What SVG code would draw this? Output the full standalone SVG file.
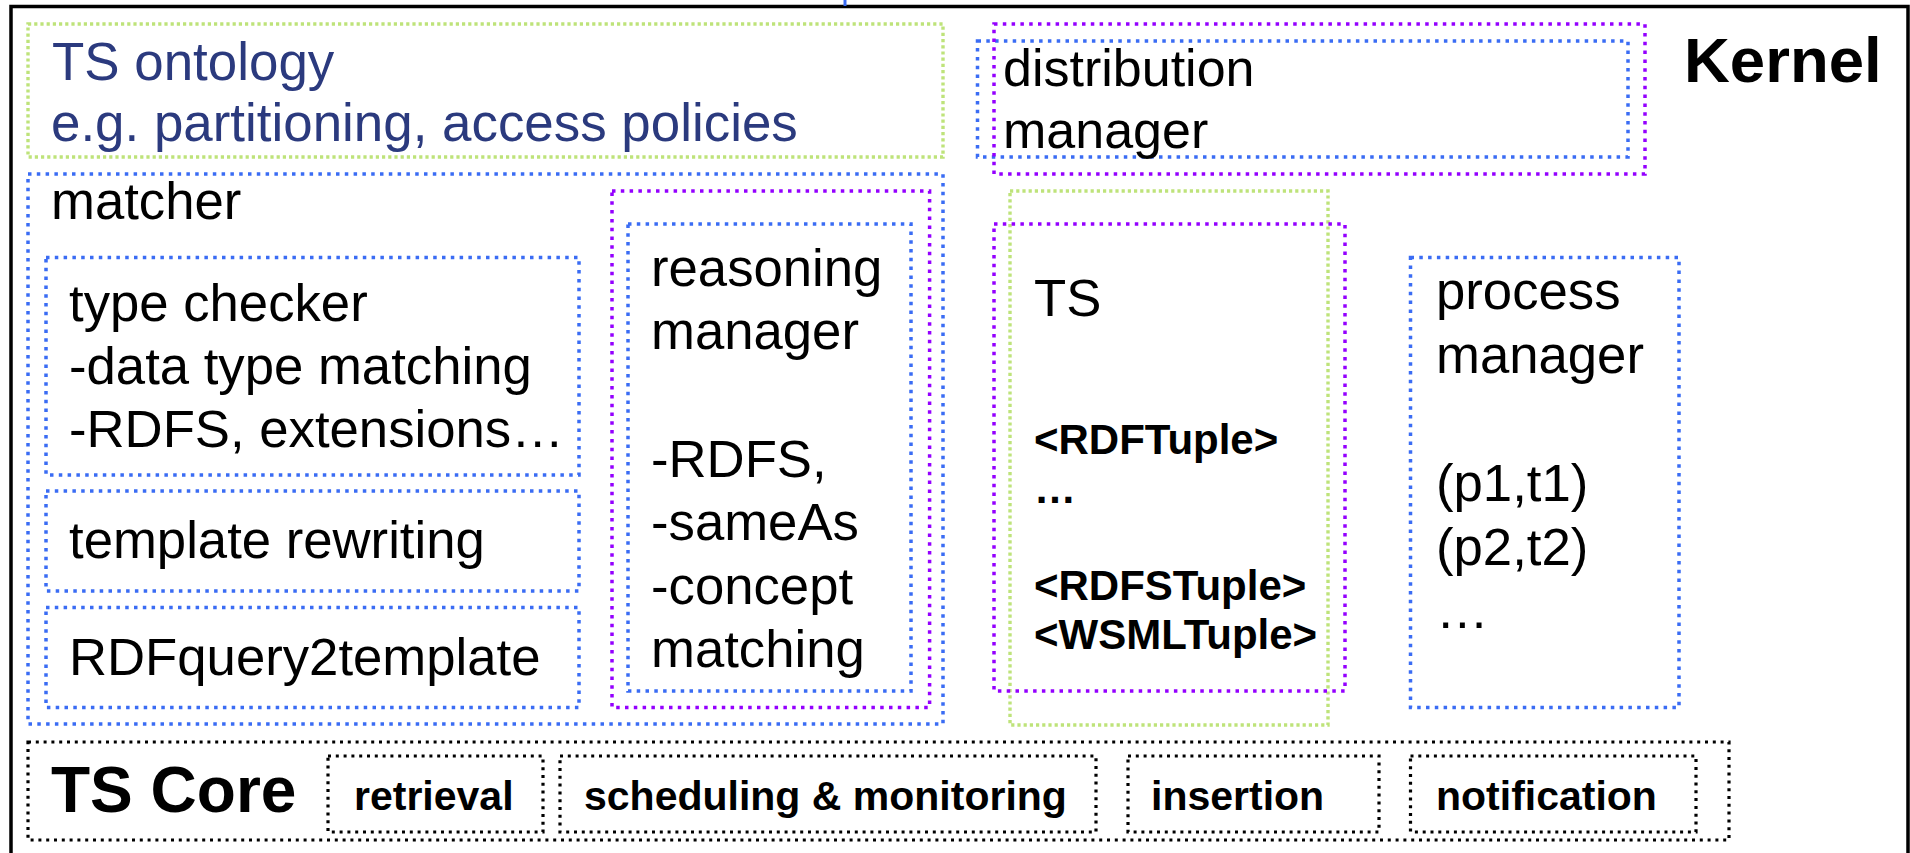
<svg xmlns="http://www.w3.org/2000/svg" width="1910" height="853" viewBox="0 0 1910 853">
<style>
.g{fill:none;stroke:#BEE37A;stroke-width:3.4;stroke-dasharray:3.2 3}
.b{fill:none;stroke:#3A6CF4;stroke-width:3.5;stroke-dasharray:3.5 5.3}
.p{fill:none;stroke:#9400FF;stroke-width:3.5;stroke-dasharray:3.5 5.3}
.k{fill:none;stroke:#000;stroke-width:3.2;stroke-dasharray:3 4.8}
text{font-family:"Liberation Sans",Arial,sans-serif;fill:#000}
.t{font-size:52.7px}
.tb{font-size:42px;font-weight:bold}
.cb{font-size:41px;font-weight:bold}
.nav{fill:#2B3A7E;font-size:52.9px}
</style>
<rect x="0" y="0" width="1910" height="853" fill="#fff"/>
<rect x="11" y="6.5" width="1897" height="860" fill="none" stroke="#000" stroke-width="3.5"/>
<g id="connectors">
<line x1="845" y1="0" x2="845" y2="6" stroke="#3A6CF4" stroke-width="3"/>
</g>
<g id="ontology">
<rect class="g" x="28" y="24" width="915" height="133"/>
<text class="nav" x="52" y="80">TS ontology</text>
<text class="nav" x="51" y="141">e.g. partitioning, access policies</text>
</g>
<g id="distribution">
<rect class="b" x="977.5" y="41" width="650.5" height="116"/>
<rect class="p" x="994" y="24" width="651" height="150"/>
<text x="1003" y="86" font-size="52">distribution</text>
<text x="1003" y="148" font-size="52">manager</text>
</g>
<g id="kernel">
<text x="1684" y="82" font-size="63.5" font-weight="bold">Kernel</text>
</g>
<g id="matcher">
<rect class="b" x="28" y="174" width="915" height="550"/>
<text class="t" x="51" y="219">matcher</text>
</g>
<g id="typechecker">
<rect class="b" x="46" y="257.5" width="533" height="217.5"/>
<text class="t" x="69" y="321">type checker</text>
<text class="t" x="69" y="384">-data type matching</text>
<text class="t" x="69" y="447">-RDFS, extensions…</text>
</g>
<g id="templaterewriting">
<rect class="b" x="46" y="491" width="533" height="100"/>
<text class="t" x="69" y="558">template rewriting</text>
</g>
<g id="rdfquery">
<rect class="b" x="46" y="607.5" width="533" height="100"/>
<text class="t" x="69" y="675">RDFquery2template</text>
</g>
<g id="reasoning">
<rect class="p" x="612" y="191" width="317.6" height="516.5"/>
<rect class="b" x="628" y="224" width="283" height="467"/>
<text class="t" x="651" y="286">reasoning</text>
<text class="t" x="651" y="349">manager</text>
<text class="t" x="651" y="477">-RDFS,</text>
<text class="t" x="651" y="540">-sameAs</text>
<text class="t" x="651" y="604">-concept</text>
<text class="t" x="651" y="667">matching</text>
</g>
<g id="ts">
<rect class="g" x="1010" y="191" width="318" height="534"/>
<rect class="p" x="994" y="224" width="351" height="467"/>
<text class="t" x="1034" y="316">TS</text>
<text class="tb" x="1034" y="454">&lt;RDFTuple&gt;</text>
<text class="tb" x="1034" y="503">…</text>
<text class="tb" x="1034" y="600">&lt;RDFSTuple&gt;</text>
<text class="tb" x="1034" y="649">&lt;WSMLTuple&gt;</text>
</g>
<g id="process">
<rect class="b" x="1410.5" y="257.5" width="268.5" height="450"/>
<text class="t" x="1436" y="309">process</text>
<text class="t" x="1436" y="373">manager</text>
<text class="t" x="1436" y="501">(p1,t1)</text>
<text class="t" x="1436" y="565">(p2,t2)</text>
<text class="t" x="1436" y="628">…</text>
</g>
<g id="tscore">
<rect class="k" x="28" y="742" width="1701" height="98"/>
<text x="51" y="812" font-size="64" font-weight="bold">TS Core</text>
</g>
<g id="retrieval">
<rect class="k" x="328" y="756" width="215" height="76"/>
<text class="cb" x="354" y="810">retrieval</text>
</g>
<g id="scheduling">
<rect class="k" x="560" y="756" width="536" height="76"/>
<text class="cb" x="584" y="810">scheduling &amp; monitoring</text>
</g>
<g id="insertion">
<rect class="k" x="1128" y="756" width="251" height="76"/>
<text class="cb" x="1151" y="810">insertion</text>
</g>
<g id="notification">
<rect class="k" x="1410.5" y="756" width="285.5" height="76"/>
<text class="cb" x="1436" y="810">notification</text>
</g>
</svg>
